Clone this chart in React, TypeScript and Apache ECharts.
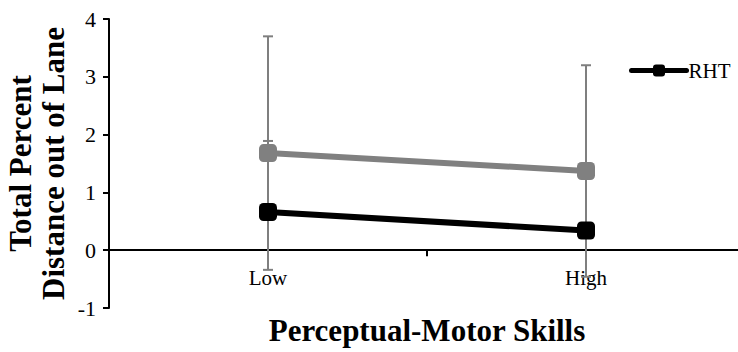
import React, { useEffect, useRef } from "react";
import * as echarts from "echarts";

const categories = ["Low", "High"];
const rhtValues = [0.66, 0.34];
const rhtErrors = [1.23, 1.03];
const otherValues = [1.68, 1.37];
const otherErrors = [2.02, 1.83];
const yTicks = [-1, 0, 1, 2, 3, 4];

const FONT = "Liberation Serif";

export default function App() {
  const ref = useRef<HTMLDivElement>(null);
  useEffect(() => {
    if (!ref.current) return;
    const chart = echarts.init(ref.current, null, { renderer: "svg" });

    const errData: number[][] = [];
    otherValues.forEach((v, i) => errData.push([i, v - otherErrors[i], v + otherErrors[i]]));
    rhtValues.forEach((v, i) => errData.push([i, v, v + rhtErrors[i]]));

    const xAxisBase = {
      type: "category",
      data: categories,
      axisLine: { onZero: false, lineStyle: { color: "#000", width: 2 } },
      axisTick: { show: true, length: 6, lineStyle: { color: "#000", width: 2 } },
      axisLabel: { fontFamily: FONT, fontSize: 21, color: "#000", margin: 17 },
      name: "Perceptual-Motor Skills",
      nameLocation: "middle",
      nameGap: 80,
      nameMoveOverlap: false,
      nameTextStyle: { fontFamily: FONT, fontSize: 31, fontWeight: "bold", color: "#000", verticalAlign: "middle" },
      splitLine: { show: false },
      offset: 0,
    };

    chart.setOption({
      animation: false,
      grid: { left: 109, top: 19, width: 636, bottom: 44, containLabel: false, outerBoundsMode: "none" },
      legend: {
        data: [{ name: "RHT" }],
        left: 624,
        top: 55,
        itemWidth: 55,
        itemHeight: 15,
        itemGap: 4,
        lineStyle: { width: 5, cap: "round" },
        textStyle: { fontFamily: FONT, fontSize: 21, color: "#000", padding: [0, 0, 0, -3] },
      },
      xAxis: xAxisBase,
      yAxis: {
        type: "value",
        min: yTicks[0],
        max: yTicks[yTicks.length - 1],
        interval: 1,
        axisLine: { show: true, lineStyle: { color: "#000", width: 2 } },
        axisTick: { show: true, length: 6, lineStyle: { color: "#000", width: 2 } },
        axisLabel: { fontFamily: FONT, fontSize: 22, color: "#000", margin: 13 },
        splitLine: { show: false },
        name: "Total Percent\nDistance out of Lane",
        nameLocation: "middle",
        nameGap: 39,
        nameMoveOverlap: false,
        nameTextStyle: { fontFamily: FONT, fontSize: 31, fontWeight: "bold", color: "#000", lineHeight: 33 },
      },
      series: [
        {
          type: "custom",
          name: "err",
          z: 1,
          data: errData,
          renderItem: (params: any, api: any) => {
            const x = api.coord([api.value(0), 0])[0];
            const lo = api.coord([api.value(0), api.value(1)])[1];
            const hi = api.coord([api.value(0), api.value(2)])[1];
            const c = 5;
            const style = { stroke: "#7f7f7f", lineWidth: 2 };
            return {
              type: "group",
              children: [
                { type: "line", shape: { x1: x, y1: lo, x2: x, y2: hi }, style },
                { type: "line", shape: { x1: x - c, y1: hi, x2: x + c, y2: hi }, style },
                { type: "line", shape: { x1: x - c, y1: lo, x2: x + c, y2: lo }, style },
              ],
            };
          },
        },
        {
          type: "line",
          name: "Other",
          z: 3,
          data: otherValues,
          symbol: "roundRect",
          symbolSize: 18,
          lineStyle: { color: "#808080", width: 6 },
          itemStyle: { color: "#808080" },
        },
        {
          type: "line",
          name: "RHT",
          z: 4,
          data: rhtValues,
          symbol: "roundRect",
          symbolSize: 18,
          lineStyle: { color: "#000", width: 6 },
          itemStyle: { color: "#000" },
        },
      ],
    });

    // Move the category axis up so it sits on y = 0, computed from the value scale.
    const yZero = chart.convertToPixel({ yAxisIndex: 0 }, 0) as number;
    const yMin = chart.convertToPixel({ yAxisIndex: 0 }, yTicks[0]) as number;
    chart.setOption({ xAxis: { ...xAxisBase, offset: yZero - yMin } });

    return () => chart.dispose();
  }, []);
  return <div ref={ref} style={{ width: 738, height: 352, position: "absolute", left: 0, top: 0 }} />;
}
